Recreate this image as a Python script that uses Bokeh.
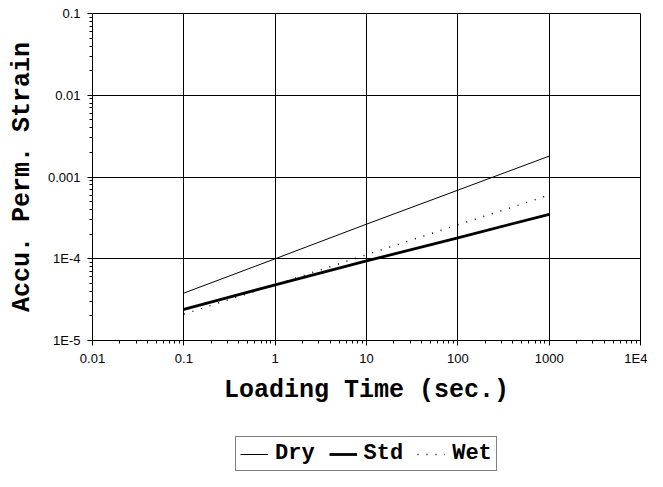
from bokeh.plotting import figure
from bokeh.models import FixedTicker, Legend, LegendItem, Range1d
from bokeh.layouts import column
from bokeh.embed import file_html
from bokeh.resources import INLINE

# Data
time_s = [0.1, 1, 10, 100, 1000]
dry = [3.8e-5, 1.0e-4, 2.65e-4, 6.9e-4, 1.8e-3]
std = [2.4e-5, 4.8e-5, 9.4e-5, 1.8e-4, 3.5e-4]
wet = [2.1e-5, 4.8e-5, 1.12e-4, 2.6e-4, 6.0e-4]

x_ticks = [0.01, 0.1, 1, 10, 100, 1000, 10000]
x_tick_labels = ["0.01", "0.1", "1", "10", "100", "1000", "1E4"]
y_ticks = [1e-5, 1e-4, 1e-3, 1e-2, 1e-1]
y_tick_labels = ["1E-5", "1E-4", "0.001", "0.01", "0.1"]

series_names = ["Dry", "Std", "Wet"]
series_values = [dry, std, wet]
series_widths = [1, 2.8, 1.5]
series_dash = ["solid", "solid", "1 8"]
x_title = "Loading Time (sec.)"
y_title = "Accu. Perm. Strain"

def minors(ticks):
    out = []
    for t in ticks[:-1]:
        out += [t * k for k in range(2, 10)]
    return out

p = figure(width=647, height=432, x_axis_type="log", y_axis_type="log",
           x_range=Range1d(x_ticks[0], x_ticks[-1]), y_range=Range1d(y_ticks[0], y_ticks[-1]),
           output_backend="svg", toolbar_location=None,
           min_border_left=92, min_border_right=7, min_border_top=13, min_border_bottom=92)

p.background_fill_color = "white"
p.border_fill_color = "white"
p.outline_line_color = "black"
p.outline_line_width = 1
p.outline_line_alpha = 1

p.xaxis.ticker = FixedTicker(ticks=x_ticks, minor_ticks=minors(x_ticks))
p.yaxis.ticker = FixedTicker(ticks=y_ticks, minor_ticks=minors(y_ticks))
p.xaxis.major_label_overrides = {t: l for t, l in zip(x_ticks, x_tick_labels)}
p.yaxis.major_label_overrides = {t: l for t, l in zip(y_ticks, y_tick_labels)}

for ax in (p.xaxis[0], p.yaxis[0]):
    ax.axis_line_color = "black"
    ax.major_tick_line_color = "black"
    ax.minor_tick_line_color = "black"
    ax.major_tick_in = 0
    ax.major_tick_out = 5
    ax.minor_tick_in = 0
    ax.minor_tick_out = 3
    ax.major_label_text_font = "Liberation Sans"
    ax.major_label_text_font_size = "13px"
    ax.major_label_text_color = "black"
    ax.axis_label_text_font = "Liberation Mono"
    ax.axis_label_text_font_style = "bold"
    ax.axis_label_text_font_size = "25px"
    ax.axis_label_text_color = "black"

p.xaxis.major_label_standoff = 5
p.yaxis.major_label_standoff = 7
p.xaxis.axis_label = x_title
p.yaxis.axis_label = y_title
p.xaxis.axis_label_standoff = 7
p.yaxis.axis_label_standoff = 8

p.xgrid.ticker = p.xaxis[0].ticker
p.ygrid.ticker = p.yaxis[0].ticker
p.grid.grid_line_color = "black"
p.grid.grid_line_width = 1
p.grid.grid_line_alpha = 1

for vals, w, d in zip(series_values, series_widths, series_dash):
    p.line(time_s, vals, line_color="black", line_width=w, line_dash=d)

# legend strip below the chart (its frame is aligned with the chart's frame);
# the same series are drawn here outside of the visible ranges, only to feed the legend
lg = figure(width=647, height=39, x_range=Range1d(-2, -1), y_range=Range1d(-2, -1),
            output_backend="svg", toolbar_location=None,
            min_border_left=0, min_border_right=0, min_border_top=0, min_border_bottom=0)
lg.axis.visible = False
lg.grid.visible = False
lg.outline_line_color = None
lg.background_fill_color = "white"
lg.border_fill_color = "white"
keys = [lg.line(time_s, vals, line_color="black", line_width=w, line_dash=d)
        for vals, w, d in zip(series_values, series_widths, series_dash)]

legend = Legend(items=[LegendItem(label=n, renderers=[r]) for n, r in zip(series_names, keys)],
                orientation="horizontal", location=(143, 0))
legend.label_text_font = "Liberation Mono"
legend.label_text_font_style = "bold"
legend.label_text_font_size = "22px"
legend.label_text_color = "black"
legend.label_height = 18
legend.glyph_width = 28
legend.glyph_height = 18
legend.label_standoff = 7
legend.spacing = 14
legend.padding = 4
legend.margin = 0
legend.border_line_color = "black"
legend.border_line_width = 1
legend.background_fill_color = "white"
legend.background_fill_alpha = 1
lg.add_layout(legend, "center")

open("out.html", "w").write(file_html(column(p, lg, spacing=0), INLINE))
